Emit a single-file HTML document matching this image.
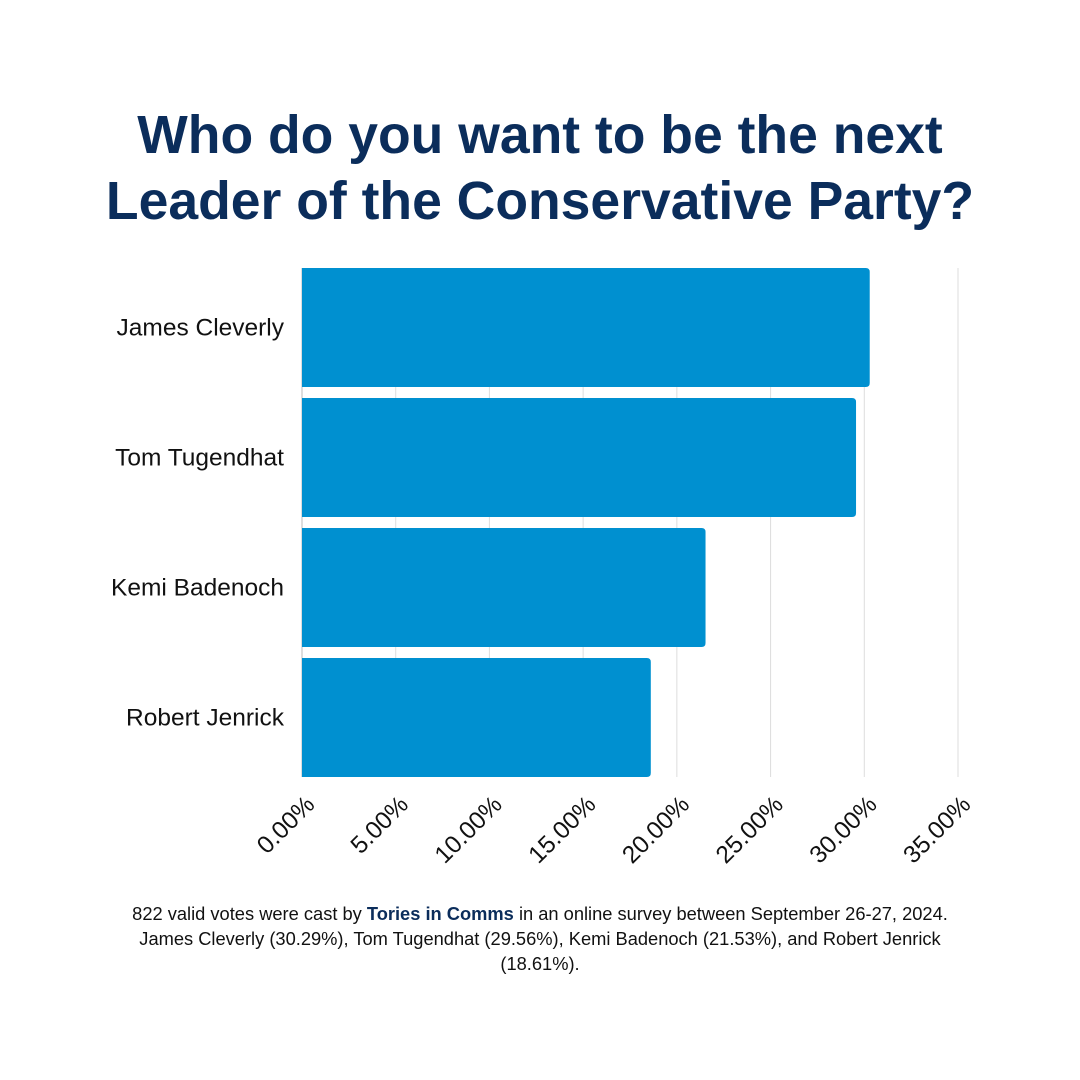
<!DOCTYPE html>
<html><head><meta charset="utf-8"><style>
body{margin:0;width:1080px;height:1080px;background:#fff;overflow:hidden}
svg{display:block}
</style></head><body>
<svg width="1080" height="1080" font-family="Liberation Sans, sans-serif">
<text x="540" y="153" text-anchor="middle" font-size="53.5" font-weight="bold" fill="#0b2d5b">Who do you want to be the next</text>
<text x="540" y="219" text-anchor="middle" font-size="53.5" font-weight="bold" fill="#0b2d5b">Leader of the Conservative Party?</text>
<g id="grid"></g><g id="bars"></g><g id="ylabels"></g><g id="xlabels"></g>
<text x="540" y="920" text-anchor="middle" font-size="18.3" fill="#111">822 valid votes were cast by <tspan font-weight="bold" fill="#0b2d5b">Tories in Comms</tspan> in an online survey between September 26-27, 2024.</text>
<text x="540" y="945" text-anchor="middle" font-size="18.3" fill="#111">James Cleverly (30.29%), Tom Tugendhat (29.56%), Kemi Badenoch (21.53%), and Robert Jenrick</text>
<text x="540" y="970" text-anchor="middle" font-size="18.3" fill="#111">(18.61%).</text>
</svg>
<script>
const categories=["James Cleverly","Tom Tugendhat","Kemi Badenoch","Robert Jenrick"];
const values=[30.29,29.56,21.53,18.61];
const ticks=[0,5,10,15,20,25,30,35];
const tickLabels=["0.00%","5.00%","10.00%","15.00%","20.00%","25.00%","30.00%","35.00%"];
const NS="http://www.w3.org/2000/svg";
const x0=302,x1=958,yTop=268,band=130,barH=119;
const xs=v=>x0+(v/35)*(x1-x0);
const ys=i=>yTop+i*band;
function mk(t,a,p){const e=document.createElementNS(NS,t);for(const k in a)e.setAttribute(k,a[k]);p.appendChild(e);return e;}
const grid=document.getElementById('grid'),bars=document.getElementById('bars'),yl=document.getElementById('ylabels'),xl=document.getElementById('xlabels');
ticks.forEach((t,i)=>{
 const g=mk('line',{x1:xs(t),x2:xs(t),y1:268,y2:777,stroke:i==0?'#bbb':'#ddd','stroke-width':1},grid);
 
 
 const x=xs(t)+14;
 const tx=mk('text',{x:x,y:806,'text-anchor':'end','font-size':24.5,fill:'#111',transform:`rotate(-45 ${x} 806)`},xl);
 tx.textContent=tickLabels[i];
 
 
});
categories.forEach((c,i)=>{
 const w=xs(values[i])-x0;
 const p=mk('path',{d:`M${x0},${ys(i)} h${w-4} q4,0 4,4 v${barH-8} q0,4 -4,4 h${-(w-4)} z`,fill:'#0090d0'},bars);
 
 
 const t=mk('text',{x:284,y:ys(i)+barH/2+8,'text-anchor':'end','font-size':24.5,fill:'#111'},yl);
 t.textContent=c;
 
 
});
</script>
</body></html>
